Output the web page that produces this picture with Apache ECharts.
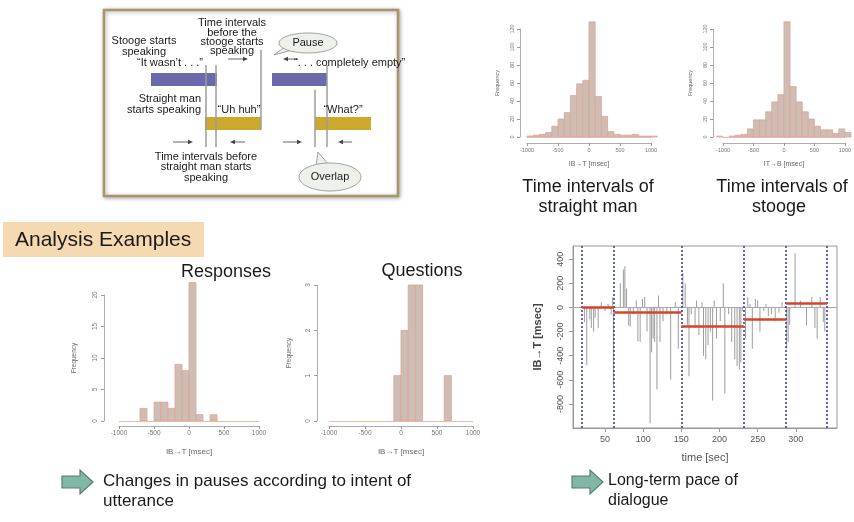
<!DOCTYPE html>
<html>
<head>
<meta charset="utf-8">
<script src="https://cdn.jsdelivr.net/npm/echarts@6/dist/echarts.min.js"></script>
<style>
html, body { margin: 0; padding: 0; background: #fff; }
#chart { width: 854px; height: 522px; }
</style>
</head>
<body>
<div id="chart"></div>
<script>
const BIN = 100
const straightStarts = [-1000, -900, -800, -700, -600, -500, -400, -300, -200, -100, 0, 100, 200, 300, 400, 500, 600, 700, 800, 900, 1000]
const straightCounts = [1, 2, 3, 5, 12, 20, 27, 46, 59, 63, 128, 45, 23, 6, 3, 2, 2, 3, 1, 1, 1]
const stoogeStarts = [-1100, -900, -800, -700, -600, -500, -400, -300, -200, -100, 0, 100, 200, 300, 400, 500, 600, 700, 800, 900, 1000]
const stoogeCounts = [1, 1, 2, 3, 9, 19, 19, 28, 39, 47, 128, 56, 39, 28, 20, 12, 8, 8, 4, 9, 5]
const respStarts = [-700, -500, -400, -300, -200, -100, 0, 100, 300]
const respCounts = [2, 3, 3, 2, 9, 8, 22, 1, 1]
const questStarts = [-100, 0, 100, 200, 600]
const questCounts = [1, 2, 3, 3, 1]

// long-term pace: time [sec] and interval [msec]
const paceTimes = [23, 26, 30, 32, 35, 37, 41, 45, 50, 54, 58, 60, 61,
  70, 74, 76, 78, 81, 83, 87, 91, 93, 96, 99, 102, 105, 109, 111, 113, 115, 118, 120, 122, 126, 131, 136, 142, 146,
  152, 155, 158, 160, 163, 168, 170, 173, 177, 179, 182, 185, 188, 191, 193, 196, 201, 205, 207, 212, 216, 220, 223, 226, 228, 230,
  234, 237, 240, 243, 247, 250, 253, 258, 261, 264, 268, 273, 278, 282,
  288, 290, 292, 299, 306, 314, 321, 325, 328, 332, 336, 338]
const paceValues = [-120, -480, -100, -171, -200, -86, -171, 43, -29, 29, -60, 86, -650,
  200, 314, 343, 157, -150, -157, -57, 57, -280, -286, 71, 86, -200, -960, -371, -257, -286, -680, 100, -286, -114, -57, -600, 43, -343,
  286, 200, -143, -571, -57, -171, 57, -229, 43, -400, -429, -314, -200, -771, 57, -257, -114, 200, -714, -57, -286, -429, -486, -514, -457, -29,
  -257, 86, 29, -343, 71, 57, -200, -29, 29, -71, -57, -114, -43, 43,
  -343, -286, -143, 450, 57, -150, 86, -171, -260, 86, -120, -200]
const segBounds = [20, 62, 150, 232, 287, 341]
const segMeans = [3, -43, -157, -94, 34]
const paceTimeTicks = [50, 100, 150, 200, 250, 300]
const paceValueTicks = [-800, -600, -400, -200, 0, 200, 400]

const FONT = '"Liberation Sans", Arial, sans-serif'
const chart = echarts.init(document.getElementById('chart'))

function histItem (params, api) {
  const start = api.value(0)
  const count = api.value(1)
  const a = api.coord([start, 0])
  const b = api.coord([start + BIN, count])
  return {
    type: 'rect',
    shape: { x: a[0], y: b[1], width: b[0] - a[0], height: a[1] - b[1] },
    style: { fill: '#cdbdb4', stroke: '#dfa596', lineWidth: 0.8 }
  }
}

function histX (gi, offset, fs, nameGap, name) {
  return {
    type: 'value', gridIndex: gi, min: -1000, max: 1000, interval: 500, offset,
    name, nameLocation: 'middle', nameGap,
    nameTextStyle: { fontSize: fs + 1.5, color: '#666', fontFamily: FONT },
    axisLine: { show: true, onZero: false, lineStyle: { color: '#999', width: 0.8 } },
    axisTick: { show: true, length: 3, lineStyle: { color: '#999' } },
    axisLabel: { fontSize: fs, color: '#777', margin: 4, fontFamily: FONT, formatter: v => String(v) },
    splitLine: { show: false }
  }
}
function histY (gi, max, interval, offset, fs, nameGap) {
  return {
    type: 'value', gridIndex: gi, min: 0, max, interval, offset,
    name: 'Frequency', nameLocation: 'middle', nameRotate: 90, nameGap,
    nameTextStyle: { fontSize: fs, color: '#666', fontFamily: FONT },
    axisLine: { show: true, onZero: false, lineStyle: { color: '#999', width: 0.8 } },
    axisTick: { show: true, length: 3, lineStyle: { color: '#999' } },
    axisLabel: { fontSize: fs, color: '#777', rotate: 90, margin: 5, fontFamily: FONT },
    splitLine: { show: false }
  }
}
function histSeries (gi, starts, counts) {
  return {
    type: 'custom', xAxisIndex: gi, yAxisIndex: gi, clip: false,
    renderItem: histItem,
    data: starts.map((s, i) => [s, counts[i]]),
    markLine: {
      silent: true, symbol: 'none', label: { show: false },
      lineStyle: { color: '#ecb9aa', width: 1, type: 'solid' },
      data: [{ yAxis: 0 }]
    }
  }
}

// ---- the schematic in the upper left (pure drawing) ----
const g = []
function txt (x, y, s, size, align, extra) {
  g.push(Object.assign({
    type: 'text', x, y,
    style: { text: s, fontSize: size, fontFamily: FONT, fill: '#1a1a1a', textAlign: align || 'left', textVerticalAlign: 'middle' }
  }, extra || {}))
}
function arrow (x1, x2, y) {
  const dir = x2 > x1 ? 1 : -1
  g.push({ type: 'line', shape: { x1, y1: y, x2: x2 - dir * 4, y2: y }, style: { stroke: '#9a9a9a', lineWidth: 1.5 } })
  g.push({ type: 'polygon', shape: { points: [[x2, y], [x2 - dir * 5, y - 2.2], [x2 - dir * 5, y + 2.2]] }, style: { fill: '#444' } })
}
g.push({ type: 'rect', shape: { x: 104, y: 10, width: 294, height: 186 }, style: { fill: '#fff', stroke: '#a8956a', lineWidth: 2.5, shadowBlur: 4, shadowColor: 'rgba(0,0,0,0.3)', shadowOffsetX: 1, shadowOffsetY: 1 } })
// bars
g.push({ type: 'rect', shape: { x: 151, y: 73, width: 66, height: 13 }, style: { fill: '#6c68ac' } })
g.push({ type: 'rect', shape: { x: 272, y: 73, width: 55, height: 13 }, style: { fill: '#6c68ac' } })
g.push({ type: 'rect', shape: { x: 205, y: 117, width: 56, height: 13 }, style: { fill: '#cba92c' } })
g.push({ type: 'rect', shape: { x: 315, y: 117, width: 56, height: 13 }, style: { fill: '#cba92c' } })
// guide lines
const vlines = [[206, 65, 147], [216, 65, 147], [261, 50, 130], [315, 90, 147], [327, 65, 147]]
vlines.forEach(v => g.push({ type: 'line', shape: { x1: v[0], y1: v[1], x2: v[0], y2: v[2] }, style: { stroke: '#9c9c9c', lineWidth: 1.5 } }))
arrow(228, 248, 59)
arrow(298, 283, 59)
arrow(173, 193, 142)
arrow(245, 230, 142)
arrow(283, 302, 142)
arrow(352, 338, 142)
// bubbles
g.push({ type: 'polygon', shape: { points: [[286, 46], [274, 55], [292, 50]] }, style: { fill: '#eef1ea', stroke: '#a0a0a0', lineWidth: 1 } })
g.push({ type: 'ellipse', shape: { cx: 308, cy: 43, rx: 29, ry: 10 }, style: { fill: '#eef1ea', stroke: '#a0a0a0', lineWidth: 1 } })
g.push({ type: 'polygon', shape: { points: [[316, 166], [318, 152], [328, 164]] }, style: { fill: '#eef1ea', stroke: '#a0a0a0', lineWidth: 1 } })
g.push({ type: 'ellipse', shape: { cx: 330, cy: 177, rx: 31, ry: 14 }, style: { fill: '#eef1ea', stroke: '#a0a0a0', lineWidth: 1 } })
txt(308, 43, 'Pause', 11, 'center')
txt(330, 177, 'Overlap', 11, 'center')
txt(232, 23, 'Time intervals', 11, 'center')
txt(232, 33, 'before the', 11, 'center')
txt(232, 42, 'stooge starts', 11, 'center')
txt(232, 51, 'speaking', 11, 'center')
txt(144, 41, 'Stooge starts', 11, 'center')
txt(144, 52, 'speaking', 11, 'center')
txt(170, 63, '\u201cIt wasn\u2019t . . .\u201d', 11, 'center')
txt(294, 63, '\u201c. . . completely empty\u201d', 11, 'left')
txt(201, 99, 'Straight man', 11, 'right')
txt(201, 110, 'starts speaking', 11, 'right')
txt(239, 110, '\u201cUh huh\u201d', 11, 'center')
txt(343, 110, '\u201cWhat?\u201d', 11, 'center')
txt(206, 157, 'Time intervals before', 11, 'center')
txt(206, 167, 'straight man starts', 11, 'center')
txt(206, 178, 'speaking', 11, 'center')

// ---- captions and labels ----
txt(588, 187, 'Time intervals of', 18, 'center')
txt(588, 207, 'straight man', 18, 'center')
txt(782, 187, 'Time intervals of', 18, 'center')
txt(779, 207, 'stooge', 18, 'center')
g.push({ type: 'rect', shape: { x: 3, y: 222, width: 201, height: 35 }, style: { fill: '#f5d9b1' } })
txt(15, 240, 'Analysis Examples', 21, 'left')
txt(226, 272, 'Responses', 18, 'center')
txt(422, 271, 'Questions', 18, 'center')
const bigArrow = x => [[x, 476], [x + 18, 476], [x + 18, 470], [x + 31, 482], [x + 18, 494], [x + 18, 488], [x, 488]]
g.push({ type: 'polygon', shape: { points: bigArrow(62) }, style: { fill: '#82b6a6', stroke: '#557f72', lineWidth: 1.2 } })
g.push({ type: 'polygon', shape: { points: bigArrow(572) }, style: { fill: '#82b6a6', stroke: '#557f72', lineWidth: 1.2 } })
txt(103, 481, 'Changes in pauses according to intent of', 17, 'left')
txt(103, 501, 'utterance', 17, 'left')
txt(608, 481, 'Long-term pace of', 16, 'left')
txt(608, 501, 'dialogue', 16, 'left')

const paceLines = [{ yAxis: 0, lineStyle: { color: '#aaa', width: 1, type: 'solid' } }]
segBounds.forEach(v => paceLines.push({ xAxis: v, lineStyle: { color: '#3d41a2', width: 1.6, type: [2, 2] } }))
segMeans.forEach((m, i) => {
  const ls = { color: '#d8432b', width: 2.5, type: 'solid' }
  paceLines.push([{ coord: [segBounds[i], m], lineStyle: ls }, { coord: [segBounds[i + 1], m], lineStyle: ls }])
})

chart.setOption({
  animation: false,
  grid: [
    { left: 527, top: 29, width: 124, height: 108 },
    { left: 723, top: 29, width: 122, height: 108 },
    { left: 119, top: 295, width: 140, height: 126 },
    { left: 329, top: 285, width: 144, height: 136 },
    { left: 573, top: 246, width: 264, height: 182, show: true, borderColor: '#999', borderWidth: 1 }
  ],
  xAxis: [
    histX(0, 6, 5.5, 18, 'IB\u2192T [msec]'),
    histX(1, 6, 5.5, 18, 'IT\u2192B [msec]'),
    histX(2, 5, 6.5, 22, 'IB\u2192T [msec]'),
    histX(3, 5, 6.5, 22, 'IB\u2192T [msec]'),
    {
      type: 'value', gridIndex: 4, min: 8, max: 354,
      name: 'time [sec]', nameLocation: 'middle', nameGap: 24,
      nameTextStyle: { fontSize: 11, color: '#555', fontFamily: FONT },
      axisLine: { show: true, onZero: false, lineStyle: { color: '#999' } },
      axisTick: { show: true, length: 4, customValues: paceTimeTicks, lineStyle: { color: '#999' } },
      axisLabel: { fontSize: 9, color: '#555', margin: 7, fontFamily: FONT, customValues: paceTimeTicks },
      splitLine: { show: false }
    }
  ],
  yAxis: [
    histY(0, 120, 20, 7, 5.5, 20),
    histY(1, 120, 20, 10, 5.5, 20),
    histY(2, 20, 5, 15, 6.5, 26),
    histY(3, 3, 1, 12, 6.5, 24),
    {
      type: 'value', gridIndex: 4, min: -1000, max: 510,
      name: 'IB\u2192T [msec]', nameLocation: 'middle', nameRotate: 90, nameGap: 30,
      nameTextStyle: { fontSize: 11, fontWeight: 'bold', color: '#444', fontFamily: FONT },
      axisLine: { show: true, onZero: false, lineStyle: { color: '#999' } },
      axisTick: { show: true, length: 4, customValues: paceValueTicks, lineStyle: { color: '#999' } },
      axisLabel: { fontSize: 9, color: '#555', rotate: 90, margin: 8, fontFamily: FONT, customValues: paceValueTicks },
      splitLine: { show: false }
    }
  ],
  series: [
    histSeries(0, straightStarts, straightCounts),
    histSeries(1, stoogeStarts, stoogeCounts),
    histSeries(2, respStarts, respCounts),
    histSeries(3, questStarts, questCounts),
    {
      type: 'bar', xAxisIndex: 4, yAxisIndex: 4, barWidth: 1,
      itemStyle: { color: '#9c9c9c' },
      data: paceTimes.map((t, i) => [t, paceValues[i]]),
      markLine: { silent: true, symbol: 'none', label: { show: false }, data: paceLines }
    }
  ],
  graphic: g
})
</script>
</body>
</html>
